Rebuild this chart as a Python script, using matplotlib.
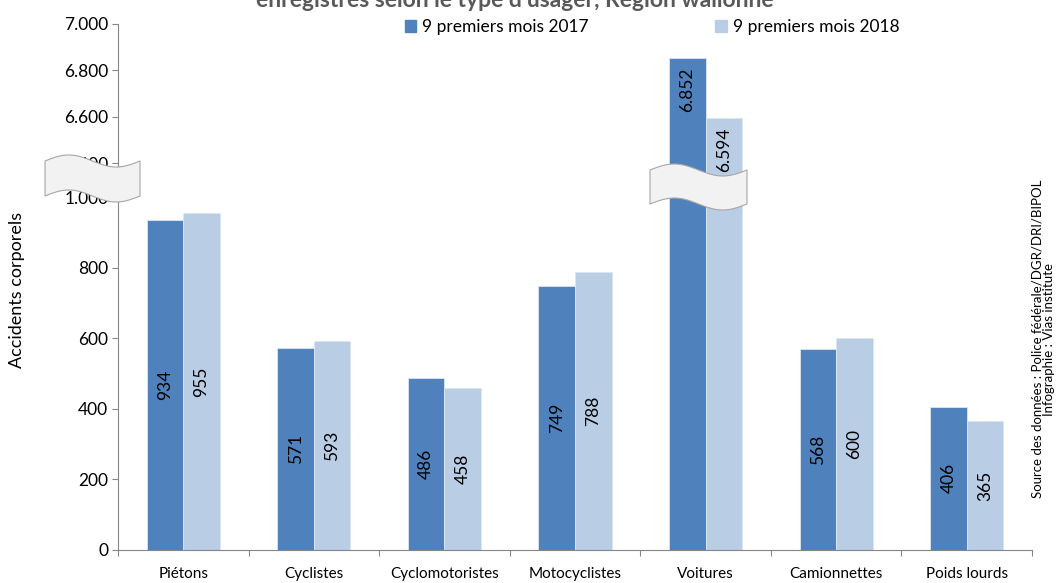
import numpy as np
import matplotlib
matplotlib.use("Agg")
import matplotlib.pyplot as plt
from matplotlib.patches import Polygon, Rectangle

plt.rcParams['font.family'] = ['Lato', 'DejaVu Sans']

categories = ["Piétons", "Cyclistes", "Cyclomotoristes", "Motocyclistes",
              "Voitures", "Camionnettes", "Poids lourds"]
acc_2017 = [934, 571, 486, 749, 6852, 568, 406]
acc_2018 = [955, 593, 458, 788, 6594, 600, 365]
series_labels = ["9 premiers mois 2017", "9 premiers mois 2018"]

low_ticks = [0, 200, 400, 600, 800, 1000]
high_ticks = [6400, 6600, 6800, 7000]

DARK = "#4F81BD"
LIGHT = "#B9CDE5"
AXCOL = "#868686"

W, H = 1056, 583
fig = plt.figure(figsize=(W / 100, H / 100), dpi=100)

left, right = 118 / W, 1032 / W
y_base, y_split, y_top = 550, 178, 24
ax_low = fig.add_axes([left, 1 - y_base / H, right - left, (y_base - y_split) / H])
ax_high = fig.add_axes([left, 1 - y_split / H, right - left, (y_split - y_top) / H],
                       sharex=ax_low)

ax_low.set_ylim(0, (y_base - y_split) / 0.353)
ax_high.set_ylim(7000 - (y_split - y_top) / 0.2317, 7000)

x = np.arange(len(categories))
bw = 0.28


def fmt(v):
    return f"{v:,}".replace(",", ".")


for ax in (ax_low, ax_high):
    for vals, col, off in ((acc_2017, DARK, -bw / 2), (acc_2018, LIGHT, bw / 2)):
        ax.bar(x + off, vals, width=bw, color=col, edgecolor="#DCE6F2",
               linewidth=0.6, zorder=2)
    for s in ("top", "right"):
        ax.spines[s].set_visible(False)
    ax.spines["left"].set_color(AXCOL)
    ax.tick_params(axis="y", colors=AXCOL, labelcolor="black", labelsize=12.5,
                   length=4, width=0.8, pad=3)
    ax.set_xlim(-0.5, len(categories) - 0.5)
    ax.yaxis.set_major_formatter(plt.FuncFormatter(lambda v, p: fmt(int(v))))

ax_low.set_yticks(low_ticks)
ax_high.set_yticks(high_ticks)
ax_high.spines["bottom"].set_visible(False)
ax_high.tick_params(axis="x", which="both", bottom=False, labelbottom=False)

ax_low.spines["bottom"].set_color(AXCOL)
ax_low.set_xticks(x)
ax_low.set_xticklabels(categories, fontsize=11)
ax_low.set_xticks(np.arange(len(categories) + 1) - 0.5, minor=True)
ax_low.tick_params(axis="x", which="major", length=0, pad=12)
ax_low.tick_params(axis="x", which="minor", length=4, color=AXCOL, width=0.8)

# value labels: inside the bar, centred, or near the top for the tall bars
lo_max = ax_low.get_ylim()[1]
for vals, off in ((acc_2017, -bw / 2), (acc_2018, bw / 2)):
    for xi, v in zip(x, vals):
        if v < lo_max:
            ax_low.text(xi + off, v / 2, fmt(v), rotation=90, ha="center",
                        va="center", fontsize=12.5, zorder=3)
        else:
            ax_high.annotate(fmt(v), (xi + off, v), xytext=(0, -23),
                             textcoords="offset points", rotation=90,
                             ha="center", va="center", fontsize=12.5, zorder=3)


def wave_break(x0, x1, ytop, height, amp=6):
    t = np.linspace(0, 1, 60)
    xs = x0 + (x1 - x0) * t
    top = ytop - amp * np.sin(2 * np.pi * t)
    bot = top + height
    px = np.concatenate([xs, xs[::-1]])
    py = np.concatenate([top, bot[::-1]])
    pts = np.column_stack([px / W, 1 - py / H])
    fig.add_artist(Polygon(pts, closed=True, transform=fig.transFigure,
                           facecolor="#F2F2F2", edgecolor="#A6A6A6",
                           linewidth=0.8, zorder=10))


wave_break(45, 140, 161, 35)
wave_break(650, 747, 170, 34)

fig.text(515 / W, 1 - 7 / H, "enregistrés selon le type d'usager, Région wallonne",
         ha="center", va="baseline", fontsize=16.5, fontweight="bold", color="#595959")

handles = [Rectangle((0, 0), 1, 1, color=DARK), Rectangle((0, 0), 1, 1, color=LIGHT)]
fig.legend(handles, series_labels, loc="center", bbox_to_anchor=(652 / W, 1 - 27 / H),
           ncol=2, frameon=False, fontsize=12.5, handlelength=0.65, handleheight=0.65,
           handletextpad=0.35, columnspacing=7.3, borderpad=0)

fig.text(17 / W, 1 - 290 / H, "Accidents corporels", rotation=90, ha="center",
         va="center", fontsize=13)
fig.text(1043 / W, 1 - 339 / H,
         "Source des données : Police fédérale/DGR/DRI/BIPOL\nInfographie : Vias institute",
         rotation=90, ha="center", va="center", fontsize=9.5, multialignment="center",
         linespacing=1.0)

fig.savefig("out.png", dpi=100)
